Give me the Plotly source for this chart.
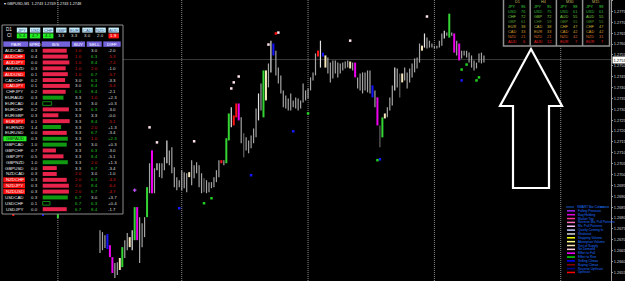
import plotly.graph_objects as go

W, H = 625, 281
PLOT_W = 611
FONT = "Liberation Sans"

# ---------------- DATA ----------------
SYMBOL_LINE = "GBPUSD,M1  1.2743 1.2749 1.2743 1.2748"

FIRST_BAR = -38
BAR_HIGH = [
    1.27020, 1.26997, 1.26974, 1.26905, 1.26951, 1.26983, 1.27011, 1.27029, 1.26997, 1.26974,
    1.26946, 1.26928, 1.26955, 1.26974, 1.26937, 1.26896, 1.26928, 1.26951, 1.26974, 1.26946,
    1.26919, 1.26882, 1.26905, 1.26937, 1.26955, 1.26937, 1.26914, 1.26928, 1.26900, 1.26882,
    1.26891, 1.26905, 1.26887, 1.26900, 1.26882, 1.26873, 1.26859, 1.26859,
    1.26744, 1.26735, 1.26721, 1.26726, 1.26675, 1.26620, 1.26593, 1.26597, 1.26616, 1.26666,
    1.26698, 1.26731, 1.26712, 1.26744, 1.26850, 1.26850, 1.26804, 1.26776, 1.26804, 1.26942,
    1.27052, 1.27111, 1.27029, 1.27052, 1.27052, 1.27052, 1.27079, 1.27157, 1.27111, 1.27125,
    1.27033, 1.26988, 1.26974, 1.27020, 1.27011, 1.27006, 1.27011, 1.27066, 1.27043, 1.27056,
    1.27043, 1.27006, 1.26983, 1.26974, 1.26965, 1.26965, 1.26988, 1.27020, 1.27066, 1.27066,
    1.27066, 1.27167, 1.27281, 1.27309, 1.27272, 1.27327, 1.27327, 1.27263, 1.27190, 1.27171,
    1.27157, 1.27180, 1.27212, 1.27304, 1.27373, 1.27419, 1.27479, 1.27479, 1.27511, 1.27616,
    1.27603, 1.27570, 1.27492, 1.27456, 1.27387, 1.27364, 1.27350, 1.27373, 1.27341, 1.27355,
    1.27350, 1.27341, 1.27419, 1.27387, 1.27396, 1.27447, 1.27470, 1.27557, 1.27570, 1.27616,
    1.27561, 1.27548, 1.27538, 1.27515, 1.27525, 1.27525, 1.27515, 1.27511, 1.27515, 1.27520,
    1.27525, 1.27520, 1.27515, 1.27515, 1.27447, 1.27465, 1.27470, 1.27470, 1.27479, 1.27479,
    1.27410, 1.27387, 1.27355, 1.27226, 1.27263, 1.27281, 1.27309, 1.27355, 1.27410, 1.27492,
    1.27488, 1.27465, 1.27465, 1.27492, 1.27470, 1.27488, 1.27511, 1.27534, 1.27538, 1.27603,
    1.27593, 1.27649, 1.27630, 1.27616, 1.27603, 1.27593, 1.27593, 1.27616, 1.27649, 1.27662,
    1.27653, 1.27740, 1.27653, 1.27649, 1.27616, 1.27603, 1.27570, 1.27570, 1.27570, 1.27561,
    1.27548, 1.27525, 1.27515, 1.27557, 1.27561, 1.27548,
]
BAR_LOW = [
    1.26928, 1.26905, 1.26882, 1.26809, 1.26859, 1.26891, 1.26928, 1.26951, 1.26919, 1.26891,
    1.26864, 1.26850, 1.26882, 1.26900, 1.26859, 1.26809, 1.26850, 1.26882, 1.26905, 1.26868,
    1.26845, 1.26799, 1.26836, 1.26859, 1.26882, 1.26854, 1.26836, 1.26845, 1.26832, 1.26827,
    1.26832, 1.26836, 1.26827, 1.26832, 1.26827, 1.26827, 1.26827, 1.26827,
    1.26639, 1.26652, 1.26662, 1.26657, 1.26620, 1.26547, 1.26524, 1.26538, 1.26561, 1.26574,
    1.26616, 1.26652, 1.26666, 1.26652, 1.26698, 1.26698, 1.26593, 1.26666, 1.26712, 1.26804,
    1.26914, 1.26914, 1.26914, 1.27020, 1.26988, 1.26983, 1.27020, 1.27052, 1.27043, 1.27006,
    1.26942, 1.26928, 1.26942, 1.26928, 1.26937, 1.26919, 1.26988, 1.26951, 1.26983, 1.27006,
    1.26942, 1.26914, 1.26919, 1.26914, 1.26919, 1.26937, 1.26942, 1.26965, 1.26988, 1.27052,
    1.27043, 1.27052, 1.27157, 1.27217, 1.27226, 1.27263, 1.27249, 1.27144, 1.27079, 1.27111,
    1.27098, 1.27121, 1.27144, 1.27171, 1.27249, 1.27295, 1.27263, 1.27341, 1.27401, 1.27470,
    1.27548, 1.27456, 1.27419, 1.27373, 1.27309, 1.27304, 1.27295, 1.27295, 1.27309, 1.27304,
    1.27295, 1.27304, 1.27332, 1.27341, 1.27350, 1.27387, 1.27433, 1.27456, 1.27543, 1.27492,
    1.27543, 1.27492, 1.27465, 1.27424, 1.27442, 1.27465, 1.27447, 1.27465, 1.27479, 1.27488,
    1.27492, 1.27488, 1.27479, 1.27447, 1.27396, 1.27387, 1.27373, 1.27387, 1.27378, 1.27373,
    1.27355, 1.27309, 1.27226, 1.27125, 1.27171, 1.27258, 1.27263, 1.27295, 1.27318, 1.27387,
    1.27401, 1.27355, 1.27424, 1.27433, 1.27396, 1.27424, 1.27447, 1.27470, 1.27488, 1.27515,
    1.27570, 1.27584, 1.27580, 1.27584, 1.27584, 1.27580, 1.27580, 1.27584, 1.27593, 1.27626,
    1.27639, 1.27630, 1.27639, 1.27561, 1.27548, 1.27525, 1.27534, 1.27548, 1.27538, 1.27515,
    1.27492, 1.27479, 1.27488, 1.27515, 1.27511, 1.27515,
]
# SMART bar class per bar: g normal, w light, d dark, c test/cream, G rise, M fall, B selling climax, R upthrust
BAR_TYPE = (
    "gggRgggggggggggBgggggGgggggggggggggggg"
    "gggBMMggcG" "ggcwGMgggG" "gMgwgggwgg" "ggggggcggg" "ggdggggggR"
    "gGGwRRMgdg" "ggggwgGcgw" "Bggggggggg" "ggggggggRw" "Bcgggggggg"
    "gcgMgggggg" "BgMdGcgggw" "gdcggggggg" "cwgggggggw" "gGgMgMgggg"
    "gggggg"
)

SEPARATOR_BARS = [-17, 33, 84, 135, 186]
LAST_PRICE = 1.27529
LAST_PRICE_TEXT = "1.2753"

SELL_SIG_IDX = [20, 23, 38, 53, 54, 56, 68, 72, 101, 132]
SELL_SIG_PRICE = [1.27217, 1.27148, 1.27153, 1.27396, 1.27424, 1.27451, 1.27598, 1.27653, 1.27616, 1.27727]
RED_SIG_IDX = [71]
RED_SIG_PRICE = [1.27649]
BLUE_SIG_IDX = [32, 61, 78, 113, 146]
BLUE_SIG_PRICE = [1.26845, 1.26997, 1.27199, 1.27070, 1.27433]
GREEN_SIG_IDX = [42, 45, 84, 112, 146, 148, 152, 153]
GREEN_SIG_PRICE = [1.26868, 1.26891, 1.27281, 1.27066, 1.27483, 1.27506, 1.27433, 1.27447]
CROSS_SIG_IDX = [14]
CROSS_SIG_PRICE = [1.26928]

PRICE_TICKS = [1.2655, 1.2660, 1.2665, 1.2670, 1.2675, 1.2680, 1.2685, 1.2690, 1.2695,
               1.2700, 1.2705, 1.2710, 1.2715, 1.2720, 1.2725, 1.2730, 1.2735, 1.2740,
               1.2745, 1.2750, 1.2755, 1.2760, 1.2765, 1.2770, 1.2775, 1.2780]

# currency strength table
STR_CUR = ["JPY", "USD", "CHF", "GBP", "EUR", "CAD", "NZD", "AUD"]
STR_VAL = [5.4, 4.7, 4.1, 3.3, 3.3, 3.0, 2.0, 1.9]
PAIRS = ["AUDCAD", "AUDCHF", "AUDJPY", "AUDNZD", "AUDUSD", "CADCHF", "CADJPY", "CHFJPY",
         "EURAUD", "EURCAD", "EURCHF", "EURGBP", "EURJPY", "EURNZD", "EURUSD", "GBPAUD",
         "GBPCAD", "GBPCHF", "GBPJPY", "GBPNZD", "GBPUSD", "NZDCAD", "NZDCHF", "NZDJPY",
         "NZDUSD", "USDCAD", "USDCHF", "USDJPY"]
SPREAD = [0.3, 0.4, 0.0, 0.3, 0.1, 0.2, 0.1, 0.2, 0.3, 0.4, 0.2, 0.3, 0.1, 1.4, 0.0, 0.3,
          1.0, 0.7, 0.5, 1.0, 0.0, 0.3, 0.3, 0.3, 0.3, 0.3, 0.1, 0.0]
BS = [-89, -93, -99, -85, -93, -83, -100, -85, 77, 33, -97, -58, -100, 68, -89, 93,
      89, -49, -77, 93, -52, -52, -89, -97, -97, 93, 27, -89]
BUY = [1.0, 1.0, 1.0, 1.0, 1.0, 3.0, 3.0, 6.3, 3.3, 3.3, 3.3, 3.3, 3.3, 3.3, 3.3, 3.3,
       3.3, 3.3, 3.3, 3.3, 3.3, 2.0, 2.0, 2.0, 2.0, 6.7, 6.7, 6.7]
SELL = [3.0, 6.3, 8.4, 2.0, 6.7, 6.3, 8.4, 8.4, 1.0, 3.0, 6.3, 3.3, 8.4, 2.0, 6.7, 1.0,
        3.0, 6.3, 8.4, 2.0, 6.7, 3.0, 6.3, 8.4, 6.7, 3.0, 6.3, 8.4]
DIFF = ["-2.0", "-5.3", "-7.4", "-1.0", "-5.7", "-3.3", "-5.4", "-2.1", "+2.3", "+0.3",
        "-3.0", "-0.0", "-5.1", "+1.3", "-3.4", "+2.3", "+0.3", "-3.0", "-5.1", "+1.3",
        "-3.4", "-1.0", "-4.3", "-6.4", "-4.7", "+3.7", "+0.4", "-1.7"]
SIGNAL = ["", "S", "S", "", "S", "", "S", "", "", "", "", "", "S", "", "", "B",
          "", "", "", "", "", "", "S", "S", "S", "", "", ""]

# multi-timeframe strength panel
TF_NAMES = ["D1", "H4", "M30", "M15"]
TF_CUR = [["JPY", "USD", "CHF", "GBP", "EUR", "CAD", "NZD", "AUD"],
          ["JPY", "USD", "GBP", "CHF", "CAD", "EUR", "NZD", "AUD"],
          ["JPY", "USD", "AUD", "GBP", "CHF", "CAD", "NZD", "EUR"],
          ["JPY", "USD", "AUD", "GBP", "CHF", "CAD", "NZD", "EUR"]]
TF_VAL = [[96, 76, 72, 61, 38, 33, 21, 6],
          [95, 75, 72, 59, 38, 33, 21, 12],
          [98, 61, 55, 55, 47, 42, 42, 7],
          [98, 61, 55, 55, 47, 42, 31, 7]]

LEGEND_TITLE = "SMART Bar Colors"
LEGEND_ITEMS = ["Falling Pressure", "Bag Holding", "Market Top", "Reverse Mx. Pull Patterns",
                "Mx. Pull Patterns", "Quietly Coming In", "Shakeout", "Stopping Volume",
                "Absorption Volume", "Test of Supply", "No Demand", "Effort to Fall",
                "Effort to Rise", "Selling Climax", "Buying Climax", "Reverse Upthrust", "Upthrust"]
LEGEND_COLORS = ["#a020f0", "#e000e0", "#ff30a0", "#ff70c0", "#ffc0ff", "#c8c8ff", "#d8d8d8",
                 "#ffff00", "#ffff90", "#f5deb3", "#ffd0e0", "#ff00ff", "#00e000", "#0000ff",
                 "#8b0000", "#000090", "#ff0000"]

# ---------------- FIGURE ----------------
BAR_COLORS = {'g': '#a4a4a4', 'w': '#e2e2e2', 'd': '#555555', 'c': '#f6e8bc',
              'G': '#33d433', 'M': '#f000f0', 'B': '#1414ff', 'R': '#ff1414'}
BAR_WIDTHS = {'g': 1.2, 'w': 1.2, 'd': 1.4, 'c': 2, 'G': 2, 'M': 2, 'B': 2, 'R': 2}

fig = go.Figure()
for code in "dgwcGMBR":
    xs, ys = [], []
    for i, (h, l, t) in enumerate(zip(BAR_HIGH, BAR_LOW, BAR_TYPE)):
        if t == code:
            xs += [FIRST_BAR + i, FIRST_BAR + i, None]
            ys += [h, l, None]
    fig.add_trace(go.Scatter(x=xs, y=ys, mode="lines", hoverinfo="skip",
                             line=dict(color=BAR_COLORS[code], width=BAR_WIDTHS[code])))

def sig(xv, yv, color, symbol="square", size=2.5):
    fig.add_trace(go.Scatter(x=xv, y=yv, mode="markers", hoverinfo="skip",
                             marker=dict(color=color, symbol=symbol, size=size, line=dict(width=0))))

sig(SELL_SIG_IDX, SELL_SIG_PRICE, "#ffe4f0")
sig(RED_SIG_IDX, RED_SIG_PRICE, "#ff1010")
sig(BLUE_SIG_IDX, BLUE_SIG_PRICE, "#1818ff")
sig(GREEN_SIG_IDX, GREEN_SIG_PRICE, "#20d020")
sig(CROSS_SIG_IDX, CROSS_SIG_PRICE, "#c050ff", symbol="cross", size=3)

def X(p):
    return p / PLOT_W

def Y(p):
    return 1 - p / H

shapes, ann = [], []

def rect(x0, y0, x1, y1, fill, line=None, lw=0, layer="above"):
    shapes.append(dict(type="rect", xref="paper", yref="paper", x0=X(x0), x1=X(x1),
                       y0=Y(y1), y1=Y(y0), fillcolor=fill, layer=layer,
                       line=dict(color=line or fill, width=lw)))

def seg(x0, y0, x1, y1, color, w=1, dash="solid", layer="above"):
    shapes.append(dict(type="line", xref="paper", yref="paper", x0=X(x0), x1=X(x1),
                       y0=Y(y0), y1=Y(y1), layer=layer, line=dict(color=color, width=w, dash=dash)))

def txt(x, y, s, color, size=4.6, anchor="center", family=FONT):
    ann.append(dict(xref="paper", yref="paper", x=X(x), y=Y(y), text=s, showarrow=False,
                    xanchor=anchor, yanchor="middle", borderpad=0,
                    font=dict(color=color, size=size, family=family)))

# period separators and last price line (under the bars)
for b in SEPARATOR_BARS:
    shapes.append(dict(type="line", xref="x", yref="paper", x0=b, x1=b, y0=0, y1=1, layer="below",
                       line=dict(color="#8a8a8a", width=1, dash="1px,1px")))
shapes.append(dict(type="line", xref="paper", yref="y", x0=0, x1=1, y0=LAST_PRICE, y1=LAST_PRICE,
                   layer="below", line=dict(color="#3a3a3a", width=1)))

# symbol line
txt(3, 3.5, "▾ " + SYMBOL_LINE, "#e8e8e8", size=3.8, anchor="left")

# ---- strength table panel ----
rect(2, 25, 123, 214, "#000000", "#8c8c8c", 1)
txt(9, 30, "D1", "#f0f0f0")
txt(9, 35.8, "CI", "#f0f0f0")
for k, (c, v) in enumerate(zip(STR_CUR, STR_VAL)):
    cx = 22 + 13.1 * k
    rect(cx - 5.2, 27.6, cx + 5.2, 32.6, "#c6eef8")
    txt(cx, 30.1, c, "#3a4c8c", size=4.2)
    if v >= 4.0:
        rect(cx - 5.2, 33.4, cx + 5.2, 38.4, "#22ee22")
        txt(cx, 35.9, f"{v:.1f}", "#103010", size=4.4)
    elif v < 2.0:
        rect(cx - 5.2, 33.4, cx + 5.2, 38.4, "#ff1010")
        txt(cx, 35.9, f"{v:.1f}", "#ffffff", size=4.4)
    else:
        txt(cx, 35.9, f"{v:.1f}", "#d8d8d8", size=4.4)

for name, x0, x1 in [("PAIR", 3.3, 28.3), ("SPRD", 29.3, 40), ("B/S", 41.7, 70),
                     ("BUY", 71.7, 85), ("SELL", 86.7, 101.7), ("DIFF", 103.3, 120.7)]:
    rect(x0, 41.4, x1, 46.8, "#7464dc")
    txt((x0 + x1) / 2, 44.1, name, "#ffffff", size=4.4)

def val_color(v):
    if v >= 6.0:
        return "#22c422"
    if v <= 2.0:
        return "#d01a1a"
    return "#dcdcdc"

for r, pair in enumerate(PAIRS):
    cy = 50.7 + 5.87 * r
    s = SIGNAL[r]
    if s == "S":
        rect(3.3, cy - 2.5, 25, cy + 2.5, "#ff1010")
    elif s == "B":
        rect(3.3, cy - 2.5, 26.5, cy + 2.5, "#22ee22")
    txt(14.5, cy, pair, "#1a1a1a" if s == "B" else "#f0f0f0", size=4.4)
    txt(34, cy, f"{SPREAD[r]:.1f}", "#dcdcdc", size=4.4)
    length = 27 * abs(BS[r]) / 100
    if BS[r] > 0 and BS[r] < 40:
        rect(42.7, cy - 1.8, 42.7 + length, cy + 1.8, "#000000", "#118811", 1)
    elif BS[r] > 0:
        rect(42.7, cy - 2, 42.7 + length, cy + 2, "#119a11")
    else:
        rect(42.7, cy - 2, 42.7 + length, cy + 2, "#e8244c")
    txt(78.5, cy, f"{BUY[r]:.1f}", val_color(BUY[r]), size=4.4)
    txt(94.2, cy, f"{SELL[r]:.1f}", val_color(SELL[r]), size=4.4)
    dcol = "#d01a1a" if s == "S" else ("#22c422" if s == "B" else "#dcdcdc")
    txt(112, cy, DIFF[r], dcol, size=4.4)

# ---- multi timeframe panel ----
RANK_COLORS = ["#3fd23f", "#36b836", "#7ccc3a", "#4d8f2a", "#c4b43a", "#d49a2e", "#d2682a", "#e52626"]
rect(503.5, -2, 609.5, 46, "#000000", "#8f8f8f", 1.5)
for k in range(4):
    xs0 = 504 + 26.2 * k
    if k > 0:
        seg(xs0, -2, xs0, 46, "#8f8f8f", 1.5)
    txt(xs0 + 13, 1.6, TF_NAMES[k], "#c8b860", size=3.8)
    for r in range(8):
        yy = 6.2 + 5.1 * r
        col = RANK_COLORS[r]
        txt(xs0 + 2.5, yy, TF_CUR[k][r], col, size=3.9, anchor="left")
        txt(xs0 + 21.5, yy, str(TF_VAL[k][r]), col, size=3.9, anchor="right")

# ---- big arrow ----
pts = [(531, 49), (562, 106), (549, 106), (549, 188), (513, 188), (513, 106), (500, 106)]
path = "M " + " L ".join(f"{X(a):.5f},{Y(b):.5f}" for a, b in pts) + " Z"
shapes.append(dict(type="path", xref="paper", yref="paper", path=path, fillcolor="#000000",
                   line=dict(color="#ffffff", width=2.2), layer="above"))

# ---- SMART bar colour legend ----
LBLUE = "#1f70ff"
seg(566, 207, 574, 207, LBLUE, 0.8)
txt(576, 207, LEGEND_TITLE, LBLUE, size=3.2, anchor="left")
seg(600, 207, 609, 207, LBLUE, 0.8)
for k, (name, col) in enumerate(zip(LEGEND_ITEMS, LEGEND_COLORS)):
    yy = 207 + 3.85 * (k + 1)
    seg(567, yy, 575, yy, col, 1.5)
    txt(577, yy, name, LBLUE, size=3.2, anchor="left")

# ---- last price label on the axis ----
ann.append(dict(xref="paper", yref="y", x=X(611.5), y=LAST_PRICE, text=LAST_PRICE_TEXT,
                showarrow=False, xanchor="left", yanchor="middle", bgcolor="#ffffff",
                borderpad=0.5, font=dict(color="#000000", size=4.0, family=FONT)))

x_lo = (0 - 100) / 2.477
x_hi = (PLOT_W - 100) / 2.477
fig.update_layout(
    width=W, height=H, margin=dict(l=0, r=W - PLOT_W, t=0, b=0),
    paper_bgcolor="#000000", plot_bgcolor="#000000", showlegend=False,
    font=dict(family=FONT, color="#d0d0d0"),
    shapes=shapes, annotations=ann,
    xaxis=dict(range=[x_lo, x_hi], visible=False, showgrid=False, zeroline=False),
    yaxis=dict(range=[1.265102, 1.27803], side="right", showgrid=False, zeroline=False,
               tickvals=PRICE_TICKS, ticktext=[f"{t:.4f}" for t in PRICE_TICKS],
               ticks="outside", ticklen=1, tickcolor="#9a9a9a", tickwidth=1,
               tickfont=dict(size=3.9, color="#d8d8d8", family=FONT),
               showline=True, linecolor="#9a9a9a", linewidth=1, automargin=False),
)
fig.write_html("out.html")
